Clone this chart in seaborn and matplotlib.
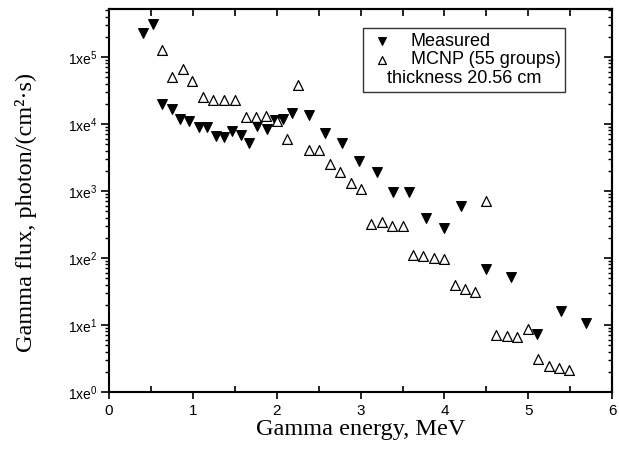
import numpy as np
import pandas as pd
import matplotlib
matplotlib.use("Agg")
import matplotlib.pyplot as plt
import seaborn as sns
from matplotlib.ticker import LogLocator, FixedLocator, FixedFormatter, MultipleLocator, NullFormatter

# ---- data (energy in MeV, flux in photon/(cm^2 s)) ----
meas_energy = [0.41, 0.52, 0.63, 0.75, 0.85, 0.96, 1.07, 1.17, 1.28, 1.37,
               1.47, 1.57, 1.67, 1.77, 1.88, 1.98, 2.08, 2.18, 2.38, 2.58,
               2.78, 2.98, 3.19, 3.39, 3.58, 3.78, 3.99, 4.20, 4.49, 4.79,
               5.10, 5.39, 5.69]
meas_flux = [2.3e5, 3.1e5, 2.0e4, 1.7e4, 1.2e4, 1.1e4, 8.9e3, 8.9e3, 6.5e3, 6.3e3,
             7.9e3, 6.9e3, 5.2e3, 9.3e3, 8.3e3, 1.15e4, 1.17e4, 1.45e4, 1.35e4, 7.4e3,
             5.2e3, 2.8e3, 1.9e3, 980, 980, 400, 280, 600, 69, 52,
             7.4, 16, 10.7]

mcnp_energy = [0.63, 0.75, 0.88, 0.99, 1.12, 1.24, 1.37, 1.50, 1.63, 1.75,
               1.87, 2.00, 2.12, 2.25, 2.38, 2.50, 2.63, 2.75, 2.88, 3.00,
               3.13, 3.25, 3.38, 3.50, 3.63, 3.75, 3.88, 4.00, 4.12, 4.24,
               4.37, 4.49, 4.62, 4.75, 4.87, 5.00, 5.12, 5.25, 5.37, 5.49]
mcnp_flux = [1.27e5, 5.0e4, 6.6e4, 4.4e4, 2.5e4, 2.3e4, 2.3e4, 2.3e4, 1.25e4, 1.25e4,
             1.3e4, 1.1e4, 6.0e3, 3.8e4, 4.1e3, 4.1e3, 2.5e3, 1.9e3, 1.3e3, 1.07e3,
             325, 350, 300, 300, 110, 107, 100, 96, 40, 35,
             31, 720, 7.1, 6.9, 6.5, 8.7, 3.1, 2.4, 2.3, 2.1]

y_exponents = [0, 1, 2, 3, 4, 5]
y_ticklabels = [f"1xe$^{{{e}}}$" for e in y_exponents]

meas = pd.DataFrame({"energy": meas_energy, "flux": meas_flux})
mcnp = pd.DataFrame({"energy": mcnp_energy, "flux": mcnp_flux})

# ---- style ----
sns.set_style("ticks")
plt.rcParams["font.family"] = ["Liberation Sans", "DejaVu Sans"]
plt.rcParams["mathtext.fontset"] = "custom"
plt.rcParams["mathtext.rm"] = "Liberation Sans"
plt.rcParams["mathtext.it"] = "Liberation Sans:italic"
plt.rcParams["mathtext.bf"] = "Liberation Sans:bold"
plt.rcParams["text.color"] = "black"
plt.rcParams["axes.labelcolor"] = "black"
plt.rcParams["xtick.color"] = "black"
plt.rcParams["ytick.color"] = "black"
plt.rcParams["axes.edgecolor"] = "black"

fig = plt.figure(figsize=(6.19, 4.5), dpi=100)
ax = fig.add_axes([0.176, 0.129, 0.813, 0.851])

sns.scatterplot(data=meas, x="energy", y="flux", marker="v", s=50,
                color="black", edgecolor="black", linewidth=0.8,
                label="Measured", ax=ax)
sns.scatterplot(data=mcnp, x="energy", y="flux", marker="^", s=50,
                facecolor="white", edgecolor="black", linewidth=0.9,
                label="MCNP (55 groups)", ax=ax)

ax.set_yscale("log")
ax.set_xlim(0, 6)
ax.set_ylim(1, 5.2e5)

# left / bottom axes
ax.xaxis.set_major_locator(MultipleLocator(1))
ax.xaxis.set_minor_locator(MultipleLocator(0.5))
ax.yaxis.set_major_locator(FixedLocator([10.0 ** e for e in y_exponents]))
ax.yaxis.set_major_formatter(FixedFormatter(y_ticklabels))
ax.yaxis.set_minor_locator(LogLocator(base=10, subs=np.arange(2, 10), numticks=20))
ax.yaxis.set_minor_formatter(NullFormatter())
ax.tick_params(axis="x", which="major", direction="out", length=5, width=1.2, labelsize=11)
ax.tick_params(axis="x", which="minor", direction="in", length=4, width=1.2)
ax.tick_params(axis="y", which="major", direction="out", length=6, width=1.2, labelsize=10, pad=2)
ax.tick_params(axis="y", which="minor", direction="out", length=3, width=1.0)

# top / right axes with inward ticks
top = ax.secondary_xaxis("top")
top.xaxis.set_major_locator(MultipleLocator(0.5))
top.tick_params(direction="in", length=5, width=1.2, labeltop=False)
right = ax.secondary_yaxis("right")
right.yaxis.set_major_locator(FixedLocator([10.0 ** e for e in y_exponents]))
right.yaxis.set_minor_locator(LogLocator(base=10, subs=np.arange(2, 10), numticks=20))
right.yaxis.set_minor_formatter(NullFormatter())
right.tick_params(which="major", direction="in", length=6, width=1.2, labelright=False)
right.tick_params(which="minor", direction="in", length=3, width=1.0)

for sp in ax.spines.values():
    sp.set_linewidth(1.5)
top.spines["top"].set_linewidth(1.5)
right.spines["right"].set_linewidth(1.5)

ax.set_xlabel("Gamma energy, MeV", family="Liberation Serif", fontsize=17.5, labelpad=1)
ax.set_ylabel("Gamma flux, photon/(cm²·s)", family="Liberation Serif", fontsize=17.5)
ax.yaxis.set_label_coords(-0.143, 0.47)

leg = ax.legend(loc="upper left", bbox_to_anchor=(0.505, 0.95), fontsize=13,
                title="thickness 20.56 cm", title_fontsize=13,
                frameon=True, fancybox=False, edgecolor="black",
                markerscale=0.8, handlelength=1.6, handletextpad=0.8,
                borderpad=0.25, labelspacing=0.1, borderaxespad=0)
leg.get_frame().set_linewidth(1.0)
# put the thickness note below the entries, as in the original
box = leg._legend_box
box._children = [box._children[1], box._children[0]]

fig.savefig("out.png", dpi=100)
